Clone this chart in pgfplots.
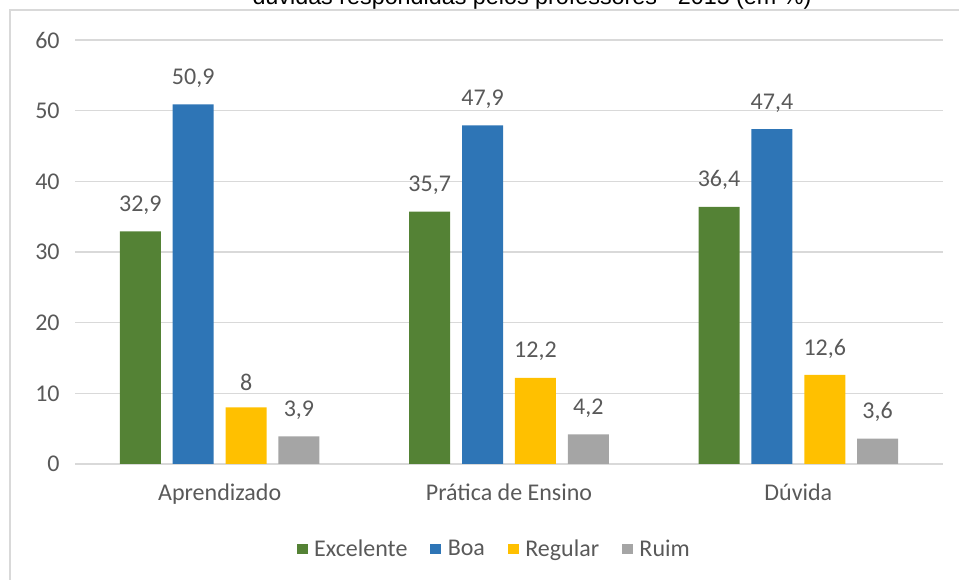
\documentclass[border=0pt]{standalone}
\usepackage{fontspec}
\setmainfont{Carlito}
\newfontfamily\titlefont{Liberation Sans}
\usepackage{pgfplots}
\pgfplotsset{compat=1.18}

\definecolor{cExc}{HTML}{548235}
\definecolor{cBoa}{HTML}{2E75B6}
\definecolor{cReg}{HTML}{FFC000}
\definecolor{cRui}{HTML}{A5A5A5}
\definecolor{txt}{HTML}{595959}
\definecolor{grd}{HTML}{D9D9D9}

\newcommand{\lbl}{\fontsize{18}{21}\selectfont}

\begin{document}
\begin{tikzpicture}[x=0.75pt,y=0.75pt]
\useasboundingbox (0,0) rectangle (959,580);
% chart frame (right and bottom fall outside the picture)
\draw[grd, line width=1.5pt] (10,-20) -- (10,570) -- (990,570);
% second line of the title, cut at the top
\node[anchor=base, inner sep=0pt, font=\titlefont\fontsize{17.5}{20}\selectfont] at (532,575)
  {dúvidas respondidas pelos professores - 2015 (em \%)};

\begin{axis}[
  at={(56.25pt,87pt)}, anchor=south west,
  scale only axis, width=651pt, height=318pt,
  ybar=8.9pt, bar width=30.75pt,
  xmin=-0.5, xmax=2.5, ymin=0, ymax=60,
  ytick={0,10,...,60},
  xtick={0,1,2},
  xticklabels={Aprendizado, Prática de Ensino, Dúvida},
  axis line style={draw=none},
  major tick length=0pt,
  ymajorgrids=true,
  grid style={grd, line width=1.1pt},
  /pgf/number format/use comma,
  /pgf/number format/assume math mode=true,
  tick label style={text=txt, font=\lbl},
  yticklabel style={xshift=-8pt},
  xticklabel style={yshift=-11pt},
  nodes near coords,
  every node near coord/.append style={text=txt, font=\lbl, yshift=9pt},
  legend columns=-1,
  legend style={at={(0.4833,-0.2005)}, anchor=center, draw=none, fill=none,
    font=\lbl, text=txt,
    /tikz/every odd column/.append style={column sep=3pt},
    /tikz/every even column/.append style={column sep=15pt}},
  sq/.style={draw=none, fill=#1,
    legend image code/.code={\fill[#1] (0pt,-4.1pt) rectangle (8.25pt,4.1pt);}},
]
\addplot[sq=cExc] coordinates {(0,32.9) (1,35.7) (2,36.4)};
\addlegendentry{Excelente}
\addplot[sq=cBoa] coordinates {(0,50.9) (1,47.9) (2,47.4)};
\addlegendentry{Boa}
\addplot[sq=cReg] coordinates {(0,8) (1,12.2) (2,12.6)};
\addlegendentry{Regular}
\addplot[sq=cRui] coordinates {(0,3.9) (1,4.2) (2,3.6)};
\addlegendentry{Ruim}
\end{axis}
\end{tikzpicture}
\end{document}
